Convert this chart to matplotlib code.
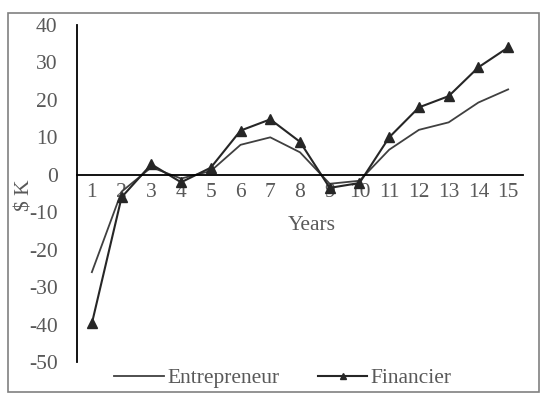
import matplotlib
matplotlib.use("Agg")
import matplotlib.pyplot as plt
from matplotlib.patches import Rectangle

years = list(range(1, 16))
entrepreneur = [-26, -4.5, 2, -1, 1, 8, 10, 6, -2.4, -1.6, 6.7, 12, 14, 19.3, 22.8]
financier = [-39.7, -6, 2.8, -2, 1.9, 11.8, 14.8, 8.8, -3.5, -2.2, 10, 18, 21, 28.7, 34]
yticks = [40, 30, 20, 10, 0, -10, -20, -30, -40, -50]

plt.rcParams['font.family'] = ['Liberation Serif', 'DejaVu Serif']
plt.rcParams['axes.unicode_minus'] = False
txt = '#595959'
fs = 15.5

fig = plt.figure(figsize=(5.5, 4.03), dpi=100)
fig.patches.append(Rectangle((8/550, 1-392/403), (539-8)/550, (392-13)/403,
                             transform=fig.transFigure, fill=False,
                             edgecolor='#808080', linewidth=1.2))
ax = fig.add_axes([77/550, 1-362/403, (523-77)/550, (362-25)/403])

ax.plot(years, entrepreneur, color='#404040', linewidth=1.3, label='Entrepreneur')
ax.plot(years, financier, color='#262626', linewidth=1.5, marker='^',
        markersize=7, label='Financier')

ax.set_xlim(0.5, 15.5)
ax.set_ylim(-50, 40)
ax.set_yticks(yticks)
ax.set_xticks(years)
ax.spines['top'].set_visible(False)
ax.spines['right'].set_visible(False)
ax.spines['bottom'].set_position(('data', 0))
ax.spines['bottom'].set_color('black')
ax.spines['bottom'].set_linewidth(1.3)
ax.spines['left'].set_color('black')
ax.spines['left'].set_linewidth(1.3)
ax.tick_params(axis='both', length=0, labelsize=fs, labelcolor=txt)
ax.tick_params(axis='y', pad=14)
ax.tick_params(axis='x', pad=6)

fig.text(312/550, 1-225/403, 'Years', ha='center', va='center', fontsize=fs, color=txt)
fig.text(25/550, 1-195/403, '$ K', ha='center', va='center', rotation=90, fontsize=fs, color=txt)

leg = ax.legend(loc='center', bbox_to_anchor=(283/550, 1-378/403),
                bbox_transform=fig.transFigure, ncol=2, frameon=False,
                fontsize=fs, handlelength=2.3, columnspacing=1.8, handletextpad=0.15,
                labelcolor=txt, markerscale=0.7)

fig.savefig('out.png', dpi=100)
